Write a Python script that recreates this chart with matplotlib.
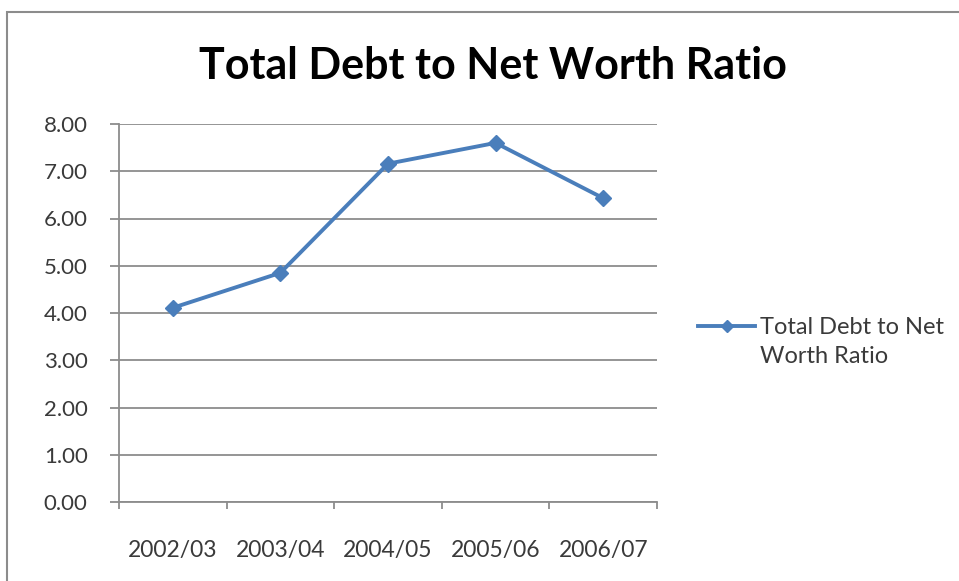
import numpy as np
import matplotlib.pyplot as plt
from matplotlib.patches import Rectangle
from matplotlib.legend_handler import HandlerLine2D

# data
years = ['2002/03', '2003/04', '2004/05', '2005/06', '2006/07']
ratio = [4.11, 4.85, 7.16, 7.60, 6.43]
y_ticks = [0, 1, 2, 3, 4, 5, 6, 7, 8]

plt.rcParams['font.family'] = ['Lato', 'DejaVu Sans']
grey = '#8c8c8c'
txt = '#3a3a3a'


class FirstLineHandler(HandlerLine2D):
    # put the legend line next to the first text line, like Excel does
    def create_artists(self, legend, orig_handle, xdescent, ydescent, width, height, fontsize, trans):
        return super().create_artists(legend, orig_handle, xdescent, ydescent - 24,
                                      width, height, fontsize, trans)


fig = plt.figure(figsize=(9.59, 5.81), dpi=100)
fig.patch.set_facecolor('white')

# chart area border (only top/left visible in the crop)
fig.add_artist(Rectangle((7 / 959, -0.1), 1.2, 1 - 12 / 581 + 0.1, transform=fig.transFigure,
                         fill=False, edgecolor=grey, linewidth=1.5))

ax = fig.add_axes([119 / 959, 1 - 502 / 581, (657 - 119) / 959, (502 - 124) / 581])

x = np.arange(1, len(years) + 1)
line, = ax.plot(x, ratio, color='#4a7ebb', linewidth=2.8, marker='D', markersize=8,
                markerfacecolor='#4a7ebb', markeredgecolor='#4a7ebb',
                label='Total Debt to Net\nWorth Ratio')

ax.set_xlim(0.5, len(years) + 0.5)
ax.set_ylim(0, 8)
ax.set_yticks(y_ticks)
ax.set_yticklabels([f'{v:.2f}' for v in y_ticks], color=txt, fontsize=16)
ax.yaxis.grid(True, color=grey, linewidth=1.3)
ax.set_axisbelow(True)

ax.set_xticks(np.arange(0.5, len(years) + 1, 1))
ax.set_xticklabels([])
ax.set_xticks(x, minor=True)
ax.set_xticklabels(years, minor=True, color=txt, fontsize=16.5)
ax.tick_params(axis='x', which='major', length=5, color=grey, width=1.3)
ax.tick_params(axis='x', which='minor', length=0, pad=27)
ax.tick_params(axis='y', length=6.5, color=grey, width=1.3, pad=16)

for s in ['top', 'right']:
    ax.spines[s].set_visible(False)
for s in ['left', 'bottom']:
    ax.spines[s].set_color(grey)
    ax.spines[s].set_linewidth(1.3)

fig.text(493 / 959, 1 - 66 / 581, 'Total Debt to Net Worth Ratio', ha='center', va='center',
         fontsize=31, fontweight='bold', color='black')

leg = fig.legend(handles=[line], loc='center left', bbox_to_anchor=(677 / 959, 1 - 342 / 581),
                 frameon=False, fontsize=17, handlelength=2.4, handletextpad=0.2,
                 labelspacing=0.3, labelcolor=txt, markerscale=0.75,
                 handler_map={line: FirstLineHandler()})
leg.get_texts()[0].set_linespacing(1.45)

fig.savefig('out.png', dpi=100, facecolor='white')
